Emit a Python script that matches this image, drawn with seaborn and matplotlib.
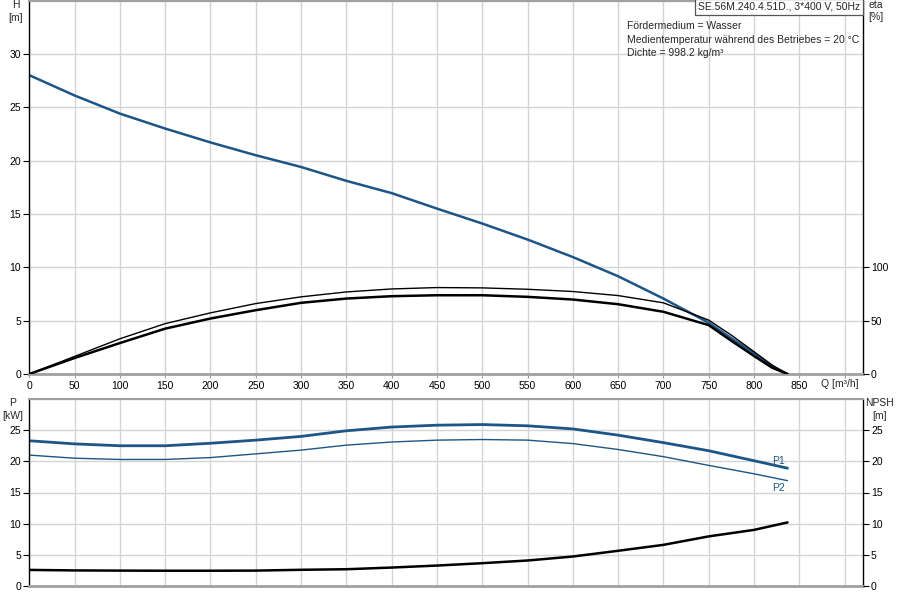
import numpy as np
import pandas as pd
import seaborn as sns
import matplotlib
matplotlib.use('Agg')
import matplotlib.pyplot as plt

# flow points [m3/h]
q = [0, 50, 100, 150, 200, 250, 300, 350, 400, 450, 500, 550, 600, 650, 700, 750, 775, 800, 820, 837]

# head H [m]
head = [28.0, 26.1, 24.4, 23.0, 21.7, 20.5, 19.4, 18.1, 16.95, 15.5, 14.1, 12.6, 10.96, 9.16, 7.07, 4.8, 3.35, 1.95, 0.7, 0.0]

# efficiencies [%]
eta_thin = [0, 16.5, 33.0, 47.2, 57.3, 66.0, 72.3, 76.9, 79.7, 81.0, 80.7, 79.4, 77.3, 73.5, 66.7, 50.5, 36.4, 20.9, 8.4, 0]
eta_thick = [0, 15.0, 29.0, 42.5, 52.0, 59.8, 66.7, 70.7, 72.9, 73.8, 73.8, 72.3, 69.8, 65.4, 58.3, 45.8, 31.1, 16.9, 5.9, 0]

# power [kW] and NPSH [m]
q_low = [0, 50, 100, 150, 200, 250, 300, 350, 400, 450, 500, 550, 600, 650, 700, 750, 800, 837]
p1 = [23.3, 22.8, 22.5, 22.5, 22.9, 23.4, 24.0, 24.9, 25.5, 25.8, 25.9, 25.7, 25.2, 24.2, 23.0, 21.7, 20.1, 18.9]
p2 = [21.0, 20.5, 20.3, 20.3, 20.6, 21.2, 21.8, 22.6, 23.1, 23.4, 23.5, 23.4, 22.85, 21.9, 20.75, 19.35, 18.0, 16.9]
npsh = [2.58, 2.5, 2.47, 2.45, 2.45, 2.47, 2.6, 2.69, 2.96, 3.28, 3.66, 4.09, 4.73, 5.65, 6.6, 7.96, 9.0, 10.2]

x_ticks = list(range(0, 901, 50))
x_labels = [str(t) for t in range(0, 851, 50)] + ['']

BLUE = '#1d5587'
GRID = '#d4d4d4'

sns.set_theme(style='white')
plt.rcParams['font.family'] = ['Liberation Sans', 'DejaVu Sans']
plt.rcParams['font.size'] = 7.5

top_df = pd.DataFrame({'Q': q, 'H': head, 'eta1': eta_thin, 'eta2': eta_thick})
low_df = pd.DataFrame({'Q': q_low, 'P1': p1, 'P2': p2, 'NPSH': npsh})

fig = plt.figure(figsize=(9, 6), dpi=100)
ax1 = fig.add_axes([29.3 / 900, 1 - 374 / 600, (862.7 - 29.3) / 900, 373.5 / 600])
ax2 = fig.add_axes([29.3 / 900, 1 - 586 / 600, (862.7 - 29.3) / 900, (586 - 399) / 600])


def style_axes(ax, ylim, yticks):
    ax.set_xlim(0, 920)
    ax.set_ylim(*ylim)
    ax.set_xticks(x_ticks)
    ax.set_yticks(np.arange(0, ylim[1] + 0.1, 5), minor=True)
    ax.set_yticks(yticks)
    ax.grid(True, which='both', color=GRID, lw=1)
    ax.set_axisbelow(True)
    for s in ['left', 'right']:
        ax.spines[s].set_color('black')
        ax.spines[s].set_linewidth(1)
    ax.spines['top'].set_color('#a0a0a0')
    ax.spines['top'].set_linewidth(1.5)
    ax.spines['bottom'].set_color('#a0a0a0')
    ax.spines['bottom'].set_linewidth(2)
    ax.tick_params(axis='y', which='major', left=True, length=4, width=0.8, pad=2, labelsize=7.5, colors='black')
    ax.tick_params(axis='y', which='minor', length=0)
    ax.set_xlabel('')
    ax.set_ylabel('')


# top panel: head and efficiency
sns.lineplot(data=top_df, x='Q', y='H', ax=ax1, color=BLUE, lw=1.8, sort=False)
style_axes(ax1, (0, 35), list(range(0, 31, 5)))
ax1.set_xticklabels(x_labels)
ax1.tick_params(axis='x', bottom=True, length=3, width=0.8, pad=2, labelsize=7.5, colors='black')
ax1.tick_params(axis='x', colors='#a0a0a0', labelcolor='black')

ax1r = ax1.twinx()
sns.lineplot(data=top_df, x='Q', y='eta1', ax=ax1r, color='black', lw=1.0, sort=False)
sns.lineplot(data=top_df, x='Q', y='eta2', ax=ax1r, color='black', lw=1.8, sort=False)
ax1r.set_ylim(0, 350)
ax1r.set_yticks([0, 50, 100])
ax1r.grid(False)
ax1r.set_ylabel('')
ax1r.tick_params(axis='y', right=True, length=4, width=0.8, pad=2, labelsize=7.5, colors='black')
for s in ax1r.spines.values():
    s.set_visible(False)

# bottom panel: power and NPSH
sns.lineplot(data=low_df, x='Q', y='P1', ax=ax2, color=BLUE, lw=2.0, sort=False)
sns.lineplot(data=low_df, x='Q', y='P2', ax=ax2, color=BLUE, lw=1.0, sort=False)
style_axes(ax2, (0, 30), list(range(0, 26, 5)))
ax2.set_xticklabels([])
ax2.tick_params(axis='x', length=0)

ax2r = ax2.twinx()
sns.lineplot(data=low_df, x='Q', y='NPSH', ax=ax2r, color='black', lw=1.8, sort=False)
ax2r.set_ylim(0, 30)
ax2r.set_yticks(list(range(0, 26, 5)))
ax2r.grid(False)
ax2r.set_ylabel('')
ax2r.tick_params(axis='y', right=True, length=4, width=0.8, pad=2, labelsize=7.5, colors='black')
for s in ax2r.spines.values():
    s.set_visible(False)

ax2.text(827, 20.0, 'P1', color=BLUE, fontsize=7.5, ha='center', va='center')
ax2.text(827, 15.8, 'P2', color=BLUE, fontsize=7.5, ha='center', va='center')

# axis captions
def ptext(x, y, s, **kw):
    fig.text(x / 900, 1 - y / 600, s, ha='center', va='center', fontsize=7.5, **kw)

ptext(16, 5, 'H')
ptext(16, 18, '[m]')
ptext(876, 5, 'eta')
ptext(876, 17, '[%]')
ptext(13, 403, 'P')
ptext(13, 416, '[kW]')
ptext(880, 403, 'NPSH')
ptext(880, 416, '[m]')
ptext(840, 384, 'Q [m³/h]')

fig.text(627 / 900, 1 - 26 / 600, 'Fördermedium = Wasser', ha='left', va='center', fontsize=7.5)
fig.text(627 / 900, 1 - 40 / 600, 'Medientemperatur während des Betriebes = 20 °C', ha='left', va='center', fontsize=7.5)
fig.text(627 / 900, 1 - 53 / 600, 'Dichte = 998.2 kg/m³', ha='left', va='center', fontsize=7.5)

ax1.text(0.997, 0.996, 'SE.56M.240.4.51D., 3*400 V, 50Hz', transform=ax1.transAxes,
         ha='right', va='top', fontsize=7.5,
         bbox=dict(boxstyle='square,pad=0.25', fc='white', ec='#555555', lw=0.9))

fig.savefig('out.png', dpi=100)
